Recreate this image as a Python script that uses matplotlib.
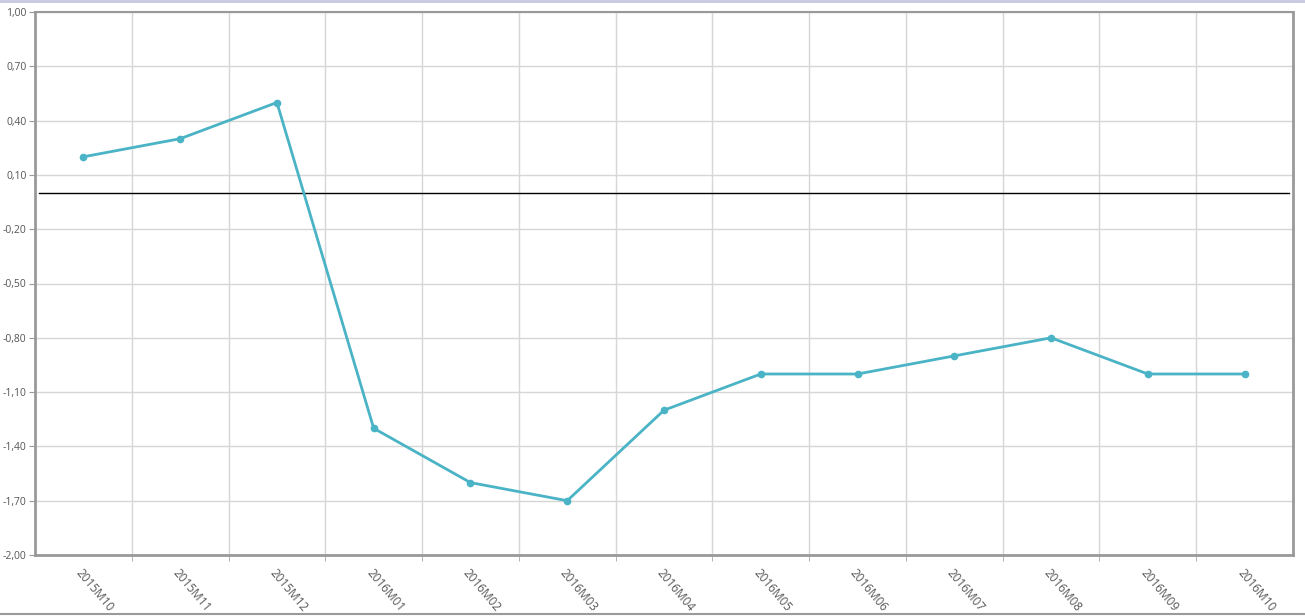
import numpy as np
import matplotlib.pyplot as plt
from matplotlib.lines import Line2D

plt.rcParams['font.family'] = ['Open Sans', 'DejaVu Sans']

periods = ['2015M10', '2015M11', '2015M12', '2016M01', '2016M02', '2016M03', '2016M04',
           '2016M05', '2016M06', '2016M07', '2016M08', '2016M09', '2016M10']
values = [0.2, 0.3, 0.5, -1.3, -1.6, -1.7, -1.2, -1.0, -1.0, -0.9, -0.8, -1.0, -1.0]
y_ticks = [1.0, 0.7, 0.4, 0.1, -0.2, -0.5, -0.8, -1.1, -1.4, -1.7, -2.0]

fig = plt.figure(figsize=(13.05, 6.16), dpi=100)
ax = fig.add_axes([35 / 1305, 1 - 555 / 616, (1293 - 35) / 1305, (555 - 12) / 616])

x = np.arange(len(periods))
ax.plot(x, values, color='#4ab3c5', lw=2, marker='o', ms=4.5, zorder=3)
ax.axhline(0, xmin=0.003, xmax=0.997, color='black', lw=1, zorder=2)

ax.set_xlim(-0.5, len(periods) - 0.5)
ax.set_ylim(-2.0, 1.0)
ax.set_yticks(y_ticks)
ax.set_yticklabels([f'{v:.2f}'.replace('.', ',') for v in y_ticks])
ax.set_xticks(x)
ax.set_xticklabels(periods, rotation=-50, ha='left', va='top', rotation_mode='anchor')
ax.set_xticks(x[:-1] + 0.5, minor=True)

ax.grid(True, axis='y', color='#d6d6d6', lw=1)
ax.grid(True, axis='x', which='minor', color='#d6d6d6', lw=1)
ax.set_axisbelow(True)

ax.tick_params(axis='x', which='major', length=0, pad=8, labelsize=8.5, labelcolor='#555555')
ax.tick_params(axis='x', which='minor', length=4, color='#aaaaaa', direction='out')
ax.tick_params(axis='y', length=4, color='#999999', labelsize=7.5, labelcolor='#555555', pad=2)

for side in ['left', 'bottom', 'right']:
    ax.spines[side].set_color('#999999')
    ax.spines[side].set_linewidth(2)
ax.spines['top'].set_color('#999999')
ax.spines['top'].set_linewidth(1.5)

fig.add_artist(Line2D([0, 1], [0.999, 0.999], color='#c5c8e0', lw=2, transform=fig.transFigure))
fig.add_artist(Line2D([0, 1], [0.004, 0.004], color='#9a9a9a', lw=1.5, transform=fig.transFigure))

fig.savefig('out.png', dpi=100)
